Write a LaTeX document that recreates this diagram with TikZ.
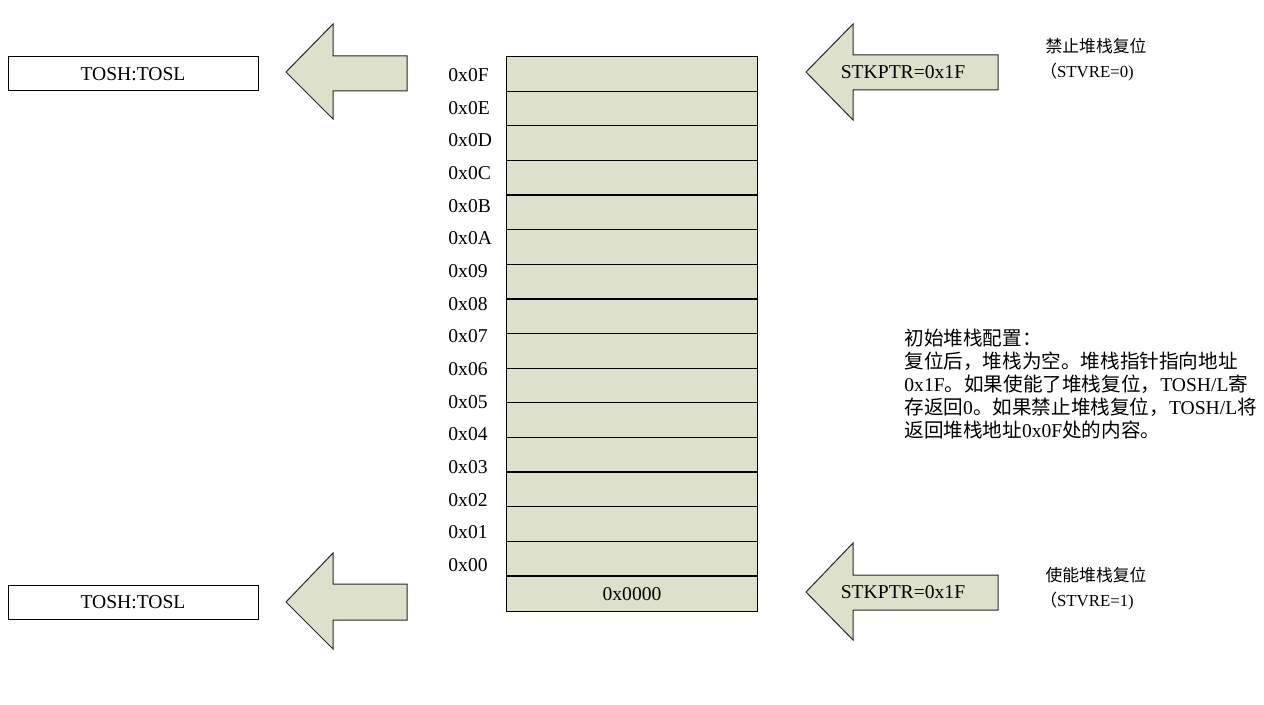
\documentclass[tikz,border=0pt]{standalone}
\usepackage{fontspec}
\setmainfont{Liberation Serif}
\newfontfamily\cjk{Noto Sans CJK SC}
\definecolor{stackfill}{RGB}{221,225,204}
\definecolor{edgegray}{RGB}{40,40,40}
\begin{document}
\begin{tikzpicture}[x=0.5pt,y=-0.5pt,
  font=\fontsize{9.8}{11.5}\selectfont,
  regbox/.style={draw=black, line width=0.5pt, fill=white, minimum width=125pt, minimum height=17pt, inner sep=0pt},
  cell/.style={fill=stackfill, minimum width=125pt, minimum height=17.3125pt, inner sep=0pt},
  rowline/.style={draw=black, line width=0.6pt},
  bigarrow/.style={draw=edgegray, line width=0.5pt, fill=stackfill, line join=miter},
  addr/.style={anchor=west, inner sep=0pt},
  note/.style={align=center, inner sep=0pt, font=\fontsize{8.4}{12.5}\selectfont}]
\useasboundingbox (0,0) rectangle (1264,705);

% stack
\foreach \k in {0,...,15} {
  \node[cell] (row\k) at (632,{57+34.625*\k+17.3125}) {};
}
\foreach \k in {1,...,15} {
  \draw[rowline] (row\k.north west) -- (row\k.north east);
}
\draw[rowline] (row0.north west) rectangle (row15.south east);
\node at (row15.center) {0x0000};

% address labels
\foreach \lab [count=\i from 0] in {0x0F,0x0E,0x0D,0x0C,0x0B,0x0A,0x09,0x08,0x07,0x06,0x05,0x04,0x03,0x02,0x01,0x00} {
  \node[addr] (lab\i) at (448,{75+32.67*\i}) {\lab};
}

% TOSH:TOSL boxes
\node[regbox] (tosTop) at (133,74) {TOSH:TOSL};
\node[regbox] (tosBot) at (133,602) {TOSH:TOSL};

% left arrows
\draw[bigarrow] (286,72) -- (333,24) -- (333,56) -- (407,56) -- (407,91) -- (333,91) -- (333,119) -- cycle;
\draw[bigarrow] (286,602) -- (333,553) -- (333,584) -- (407,584) -- (407,620) -- (333,620) -- (333,649) -- cycle;

% right arrows
\draw[bigarrow] (806,72) -- (853,24) -- (853,55) -- (998,55) -- (998,90) -- (853,90) -- (853,120) -- cycle;
\node[inner sep=0pt] (ptrTop) at (903,72) {STKPTR=0x1F};
\draw[bigarrow] (806,592) -- (853,543) -- (853,575) -- (998,575) -- (998,610) -- (853,610) -- (853,640) -- cycle;
\node[inner sep=0pt] (ptrBot) at (903,592) {STKPTR=0x1F};

% notes
\node[note] (disable) at (1096,60) {{\cjk 禁止堆栈复位}\\{\cjk （}STVRE=0)\hspace*{9pt}};
\node[note] (enable) at (1096,589) {{\cjk 使能堆栈复位}\\{\cjk （}STVRE=1)\hspace*{9pt}};

\node[anchor=north west, align=left, inner sep=0pt, font=\fontsize{9.8}{11.5}\selectfont] (config) at (904,329)
 {{\cjk 初始堆栈配置：}\\
  {\cjk 复位后，堆栈为空。堆栈指针指向地址}\\
  0x1F{\cjk 。如果使能了堆栈复位，}TOSH/L{\cjk 寄}\\
  {\cjk 存返回}0{\cjk 。如果禁止堆栈复位，}TOSH/L{\cjk 将}\\
  {\cjk 返回堆栈地址}0x0F{\cjk 处的内容。}};
\end{tikzpicture}
\end{document}
